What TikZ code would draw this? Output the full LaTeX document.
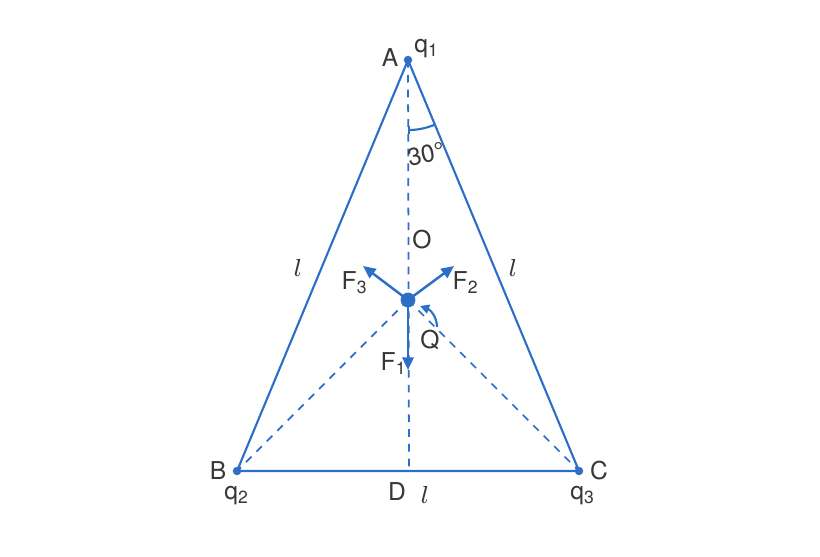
\documentclass[tikz,border=0pt]{standalone}
\usepackage{fontspec}
\setmainfont{TeX Gyre Heros}
\usetikzlibrary{arrows.meta,calc}
\definecolor{lineblue}{RGB}{45,110,200}
\definecolor{txtgray}{RGB}{55,55,55}
\tikzset{
  vertex/.style={circle,fill=lineblue,inner sep=0pt,minimum size=2.4pt},
  side/.style={draw=lineblue,line width=0.6pt},
  guide/.style={draw=lineblue,line width=0.5pt,dash pattern=on 2.2pt off 2pt},
  force/.style={draw=lineblue,line width=0.7pt,-{Triangle[length=3.6pt,width=3.2pt]}},
  lbl/.style={text=txtgray,font=\fontsize{7}{8}\selectfont,inner sep=0pt},
  len/.style={text=txtgray,font=\fontsize{7.5}{8}\selectfont,inner sep=0pt}
}
\begin{document}
\begin{tikzpicture}
           \useasboundingbox[fill=white] (0,0) rectangle (8.2,5.56);
           \node[vertex] (a) at (4.08,4.96) {};
           \node[vertex] (b) at (2.37,0.85) {};
           \node[vertex] (c) at (5.79,0.85) {};
           \coordinate (d) at (4.09,0.85);
           \node[circle,fill=lineblue,inner sep=0pt,minimum size=4.2pt] (o) at (4.08,2.56) {};
           \draw[side] (a.center) -- (b.center) -- (c.center) -- cycle;
           \draw[guide] (a.center) -- (d);
           \draw[guide] (o.center) -- (b.center);
           \draw[guide] (o.center) -- (c.center);
           \coordinate (f1) at (4.08,1.86);
           \coordinate (f2) at (4.54,2.90);
           \coordinate (f3) at (3.63,2.90);
           \draw[force] (o.center) -- (f1);
           \draw[force] (o.center) -- (f2);
           \draw[force] (o.center) -- (f3);
           \coordinate (qs) at (4.37,2.29);
           \coordinate (qe) at (4.20,2.50);
           \draw[draw=lineblue,line width=0.6pt,-{Triangle[length=2.6pt,width=2.6pt]}] (qs) to[out=90,in=-20] (qe);
           \draw[draw=lineblue,line width=0.6pt,{Bar[width=2.5pt]}-] ($(a)+(-90:0.70)$) arc[start angle=-90,end angle=-67.4,radius=0.70];
           \node[lbl] (la) at (3.90,4.98) {A};
           \node[lbl] (lq1) at (4.27,5.07) {q\textsubscript{1}};
           \node[lbl,rotate=12] (lang) at (4.26,4.02) {30°};
           \node[lbl] (lo) at (4.22,3.16) {O};
           \node[lbl] (lf3) at (3.55,2.73) {F\textsubscript{3}};
           \node[lbl] (lf2) at (4.66,2.73) {F\textsubscript{2}};
           \node[lbl] (lf1) at (3.94,1.92) {F\textsubscript{1}};
           \node[lbl] (lqq) at (4.30,2.16) {Q};
           \node[len] (ll) at (2.98,2.88) {$l$};
           \node[len] (lr) at (5.13,2.88) {$l$};
           \node[len] (lb) at (4.25,0.61) {$l$};
           \node[lbl] (lb2) at (2.18,0.85) {B};
           \node[lbl] (lc) at (5.99,0.85) {C};
           \node[lbl] (ld) at (3.97,0.64) {D};
           \node[lbl] (lq2) at (2.37,0.60) {q\textsubscript{2}};
           \node[lbl] (lq3) at (5.83,0.60) {q\textsubscript{3}};
        \end{tikzpicture}
\end{document}
